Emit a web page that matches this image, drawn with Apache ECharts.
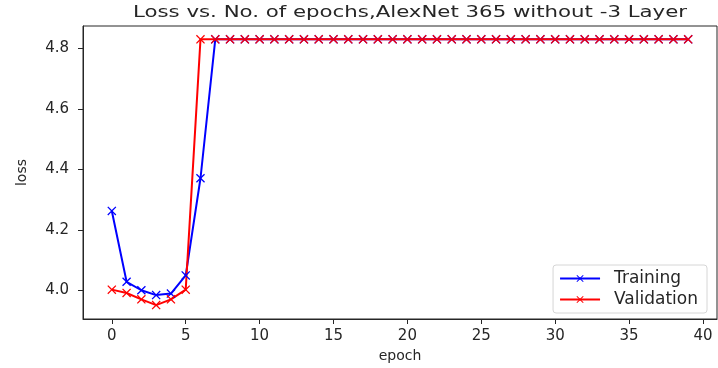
<!DOCTYPE html>
<html>
<head>
<meta charset="utf-8">
<script src="https://cdn.jsdelivr.net/npm/echarts@6/dist/echarts.min.js"></script>
<style>
  html, body { margin: 0; padding: 0; background: #fff; }
  #chart { width: 718px; height: 368px; }
</style>
</head>
<body>
<div id="chart"></div>
<script>
// epochs 0..39
var epochs = [];
for (var i = 0; i < 40; i++) epochs.push(i);

var trainingLoss = [4.263, 4.029, 4.001, 3.985, 3.99, 4.05, 4.371, 4.83,
    4.83, 4.83, 4.83, 4.83, 4.83, 4.83, 4.83, 4.83, 4.83, 4.83, 4.83, 4.83,
    4.83, 4.83, 4.83, 4.83, 4.83, 4.83, 4.83, 4.83, 4.83, 4.83, 4.83, 4.83,
    4.83, 4.83, 4.83, 4.83, 4.83, 4.83, 4.83, 4.83];
var validationLoss = [4.003, 3.992, 3.971, 3.952, 3.971, 4.003, 4.83, 4.83,
    4.83, 4.83, 4.83, 4.83, 4.83, 4.83, 4.83, 4.83, 4.83, 4.83, 4.83, 4.83,
    4.83, 4.83, 4.83, 4.83, 4.83, 4.83, 4.83, 4.83, 4.83, 4.83, 4.83, 4.83,
    4.83, 4.83, 4.83, 4.83, 4.83, 4.83, 4.83, 4.83];

var xTicks = [0, 5, 10, 15, 20, 25, 30, 35, 40];
var yTicks = [4.0, 4.2, 4.4, 4.6, 4.8];

var crossSymbol = 'path://M0,1L1,0L5,4L9,0L10,1L6,5L10,9L9,10L5,6L1,10L0,9L4,5Z';
var font = 'DejaVu Sans';
var ink = '#262626';

function pairs(ys) {
    return epochs.map(function (e, k) { return [e, ys[k]]; });
}

function lineSeries(name, ys, color) {
    return {
        name: name,
        type: 'line',
        data: pairs(ys),
        symbol: crossSymbol,
        symbolSize: 9,
        showAllSymbol: true,
        lineStyle: { color: color, width: 2 },
        itemStyle: { color: color },
        animation: false
    };
}

var myChart = echarts.init(document.getElementById('chart'));
myChart.setOption({
    backgroundColor: '#fff',
    // the source picture is a bit stretched sideways, so the title is widened
    graphic: [{
        type: 'text',
        x: 410, y: 13,
        scaleX: 1.33,
        style: {
            text: 'Loss vs. No. of epochs,AlexNet 365 without -3 Layer',
            font: '16px "DejaVu Sans"',
            fill: ink,
            align: 'center',
            verticalAlign: 'middle'
        }
    }],
    grid: {
        left: 83, right: 1, top: 26, bottom: 48,
        show: true, borderColor: ink, borderWidth: 1
    },
    legend: {
        right: 11, bottom: 55,
        orient: 'vertical',
        data: ['Training', 'Validation'],
        itemWidth: 40, itemHeight: 9, itemGap: 4,
        padding: [5, 9, 5, 6],
        borderColor: '#d6d6d6', borderWidth: 1, borderRadius: 3,
        textStyle: { fontFamily: font, fontSize: 17, color: ink, padding: [0, 0, 0, 9] }
    },
    xAxis: {
        type: 'value',
        min: -1.95, max: 40.95,
        name: 'epoch', nameLocation: 'middle', nameGap: 30,
        nameTextStyle: { fontFamily: font, fontSize: 14, color: ink },
        splitLine: { show: false },
        axisLine: { show: true, onZero: false, lineStyle: { color: ink } },
        axisTick: { show: true, length: 5, lineStyle: { color: ink }, customValues: xTicks },
        axisLabel: { customValues: xTicks, margin: 10, fontFamily: font, fontSize: 15, color: ink }
    },
    yAxis: {
        type: 'value',
        min: 3.906, max: 4.874,
        name: 'loss', nameLocation: 'middle', nameGap: 54, nameRotate: 90,
        nameTextStyle: { fontFamily: font, fontSize: 14, color: ink },
        splitLine: { show: false },
        axisLine: { show: true, onZero: false, lineStyle: { color: ink } },
        axisTick: { show: true, length: 5, lineStyle: { color: ink }, customValues: yTicks },
        axisLabel: {
            customValues: yTicks, margin: 14, fontFamily: font, fontSize: 15, color: ink,
            formatter: function (v) { return v.toFixed(1); }
        }
    },
    series: [
        lineSeries('Training', trainingLoss, '#0000ff'),
        lineSeries('Validation', validationLoss, '#ff0000')
    ]
});
</script>
</body>
</html>
